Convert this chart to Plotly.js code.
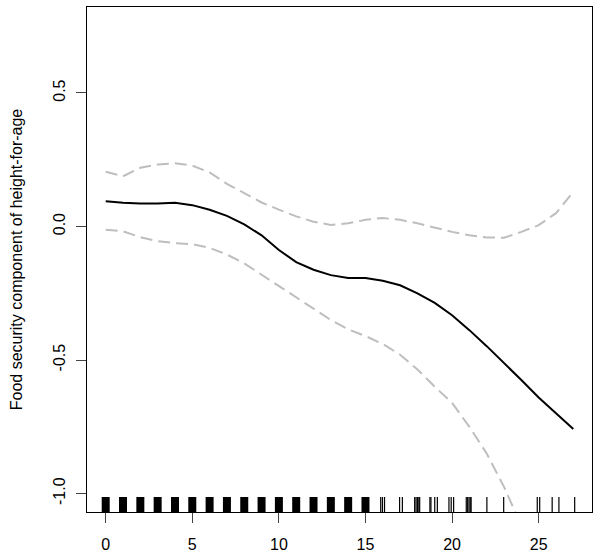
<!DOCTYPE html>
<html>
<head>
<meta charset="utf-8">
<script src="https://cdn.plot.ly/plotly-3.0.1.min.js"></script>
<style>html,body{margin:0;padding:0;background:#fff;}#chart{width:600px;height:558px;}</style>
</head>
<body>
<div id="chart"></div>
<script>
// Months / x values at which the smooth is evaluated
var xVals = [0,1,2,3,4,5,6,7,8,9,10,11,12,13,14,15,16,17,18,19,20,21,22,23,24,25,26,27];
// Fitted food security component
var fitVals = [0.095,0.089,0.086,0.086,0.089,0.080,0.063,0.040,0.008,-0.033,-0.088,-0.133,-0.162,-0.182,-0.193,-0.193,-0.203,-0.220,-0.250,-0.286,-0.332,-0.388,-0.448,-0.510,-0.575,-0.640,-0.700,-0.758];
// Upper confidence band
var upperVals = [0.205,0.188,0.220,0.232,0.237,0.228,0.203,0.160,0.125,0.090,0.063,0.038,0.018,0.006,0.012,0.025,0.032,0.025,0.012,-0.005,-0.020,-0.033,-0.041,-0.042,-0.020,0.005,0.050,0.130];
// Lower confidence band
var lowerVals = [-0.012,-0.018,-0.040,-0.055,-0.062,-0.066,-0.080,-0.105,-0.138,-0.180,-0.222,-0.265,-0.308,-0.350,-0.385,-0.410,-0.440,-0.480,-0.535,-0.600,-0.660,-0.750,-0.850,-0.975,-1.120,-1.280,-1.450,-1.630];
// Rug: densely observed values (solid blocks) and sparse individual observations
var rugDense = [0,1,2,3,4,5,6,7,8,9,10,11,12,13,14,15];
var rugSparse = [15.88,15.98,16.10,16.97,17.13,17.84,17.92,18.00,18.08,18.13,18.72,18.78,19.00,19.15,19.82,19.95,20.09,20.82,20.90,20.98,21.05,21.10,22.01,22.98,24.92,25.06,25.78,26.17,27.08];
// Axis ticks
var xTicks = [0,5,10,15,20,25];
var xTickText = ['0','5','10','15','20','25'];
var yTicks = [-1,-0.5,0,0.5];
var yTickText = ['-1.0','-0.5','0.0','0.5'];

function rugSegments(vals, len){
  var xs=[], ys=[];
  vals.forEach(function(v){ xs.push(v,v,null); ys.push(0,len,null); });
  return {x:xs, y:ys};
}
var RUGLEN = 15;
var dense = rugSegments(rugDense, RUGLEN);
var sparse = rugSegments(rugSparse, RUGLEN);

var traces = [
  {x:xVals, y:upperVals, mode:'lines', line:{color:'#BEBEBE', width:2, dash:'12px,6px'}, hoverinfo:'skip'},
  {x:xVals, y:lowerVals, mode:'lines', line:{color:'#BEBEBE', width:2, dash:'12px,6px'}, hoverinfo:'skip'},
  {x:xVals, y:fitVals, mode:'lines', line:{color:'#000000', width:2}, hoverinfo:'skip'},
  {x:dense.x, y:dense.y, yaxis:'y2', mode:'lines', line:{color:'#000000', width:8}, hoverinfo:'skip', connectgaps:false},
  {x:sparse.x, y:sparse.y, yaxis:'y2', mode:'lines', line:{color:'#000000', width:1.2}, hoverinfo:'skip', connectgaps:false}
];

var fontFam = 'Liberation Sans, Arial, Helvetica, sans-serif';
var layout = {
  width:600, height:558,
  margin:{l:87, r:8, t:7, b:46, pad:0},
  paper_bgcolor:'#ffffff', plot_bgcolor:'#ffffff',
  showlegend:false,
  font:{family:fontFam, size:16, color:'#000000'},
  xaxis:{
    range:[-1.08, 28.08], tickmode:'array', tickvals:xTicks, ticktext:xTickText,
    showgrid:false, zeroline:false, showline:true, mirror:true, linecolor:'#000', linewidth:1.2,
    ticks:'outside', ticklen:10, tickcolor:'#444', tickwidth:1, ticklabelstandoff:8,
    tickfont:{family:fontFam, size:16, color:'#000'}, automargin:false
  },
  yaxis:{
    range:[-1.069, 0.822], tickmode:'array', tickvals:yTicks, ticktext:yTickText, tickangle:-90,
    showgrid:false, zeroline:false, showline:true, mirror:true, linecolor:'#000', linewidth:1.2,
    ticks:'outside', ticklen:10, tickcolor:'#444', tickwidth:1, ticklabelstandoff:4,
    tickfont:{family:fontFam, size:16, color:'#000'}, automargin:false,
    title:{text:'Food security component of height-for-age', font:{family:fontFam, size:16, color:'#000'}, standoff:24}
  },
  yaxis2:{overlaying:'y', range:[0,505], visible:false, fixedrange:true}
};

Plotly.newPlot('chart', traces, layout, {staticPlot:true, displayModeBar:false});
</script>
</body>
</html>
